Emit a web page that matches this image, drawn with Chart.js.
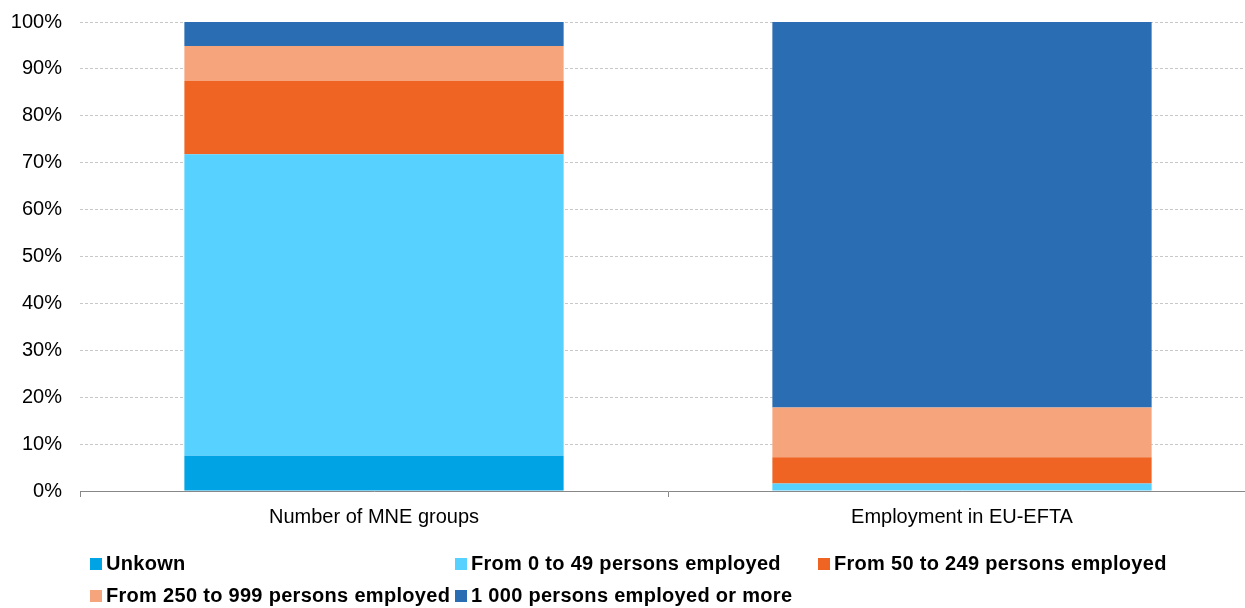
<!DOCTYPE html>
<html>
<head>
<meta charset="utf-8">
<script src="https://cdn.jsdelivr.net/npm/chart.js@4/dist/chart.umd.min.js"></script>
<style>
    html, body { margin: 0; padding: 0; background: #fff; overflow: hidden; width: 1245px; height: 608px; }
    #wrap { position: absolute; left: 0; top: -8px; width: 1256px; height: 545px; }
    #legend { position: absolute; left: 0; top: 0; width: 1245px; height: 608px; pointer-events: none; }
    .item { position: absolute; font: bold 20px "Liberation Sans", Arial, sans-serif; letter-spacing: 0.3px; color: #000; white-space: nowrap; }
    .box { display: inline-block; width: 12px; height: 12px; margin-right: 4px; vertical-align: 0px; }
</style>
</head>
<body>
<div id="wrap"><canvas id="chart" width="1256" height="545"></canvas></div>
<div id="legend"></div>
<script>
var categories = ['Number of MNE groups', 'Employment in EU-EFTA'];

var seriesNames = [
    'Unkown',
    'From 0 to 49 persons employed',
    'From 50 to 249 persons employed',
    'From 250 to 999 persons employed',
    '1 000 persons employed or more'
];

var unknownValues = [7.5, 0];
var size0to49 = [64.3, 1.6];
var size50to249 = [15.6, 5.6];
var size250to999 = [7.5, 10.6];
var size1000plus = [5.1, 82.2];

var seriesColors = ['#00A4E4', '#57D1FF', '#EF6423', '#F5A47C', '#2A6DB3'];

var yTicks = [0, 10, 20, 30, 40, 50, 60, 70, 80, 90, 100];

var allValues = [unknownValues, size0to49, size50to249, size250to999, size1000plus];

var datasets = [];
for (var i = 0; i < seriesNames.length; i++) {
    datasets.push({
        label: seriesNames[i],
        data: allValues[i],
        backgroundColor: seriesColors[i],
        borderWidth: 0,
        categoryPercentage: 1,
        barPercentage: 0.645
    });
}

var font = { family: '"Liberation Sans", Arial, sans-serif', size: 20 };

new Chart(document.getElementById('chart'), {
    type: 'bar',
    data: { labels: categories, datasets: datasets },
    options: {
        responsive: false,
        animation: false,
        layout: { padding: { top: 6, right: 0, bottom: 0, left: 0 } },
        plugins: { legend: { display: false }, tooltip: { enabled: false } },
        scales: {
            x: {
                stacked: true,
                grid: { offset: true, drawOnChartArea: false, drawTicks: true, tickLength: 6, color: '#888' },
                border: { color: '#888', width: 1 },
                ticks: { color: '#000', font: font, padding: 8 }
            },
            y: {
                stacked: true,
                min: 0,
                max: 100,
                afterBuildTicks: function (axis) {
                    axis.ticks = yTicks.map(function (v) { return { value: v }; });
                },
                afterFit: function (axis) { axis.width = 80; },
                grid: { color: '#c8c8c8', drawTicks: false },
                border: { display: false, dash: [3, 2] },
                ticks: {
                    color: '#000', font: font, padding: 18,
                    callback: function (v) { return v + '%'; }
                }
            }
        }
    }
});

// legend laid out in a grid like the original
var legendPos = [[90, 552], [455, 552], [818, 552], [90, 584], [455, 584]];
var legend = document.getElementById('legend');
for (var i = 0; i < seriesNames.length; i++) {
    var el = document.createElement('div');
    el.className = 'item';
    el.style.left = legendPos[i][0] + 'px';
    el.style.top = legendPos[i][1] + 'px';
    el.innerHTML = '<span class="box" style="background:' + seriesColors[i] + '"></span>' + seriesNames[i];
    legend.appendChild(el);
}
</script>
</body>
</html>
